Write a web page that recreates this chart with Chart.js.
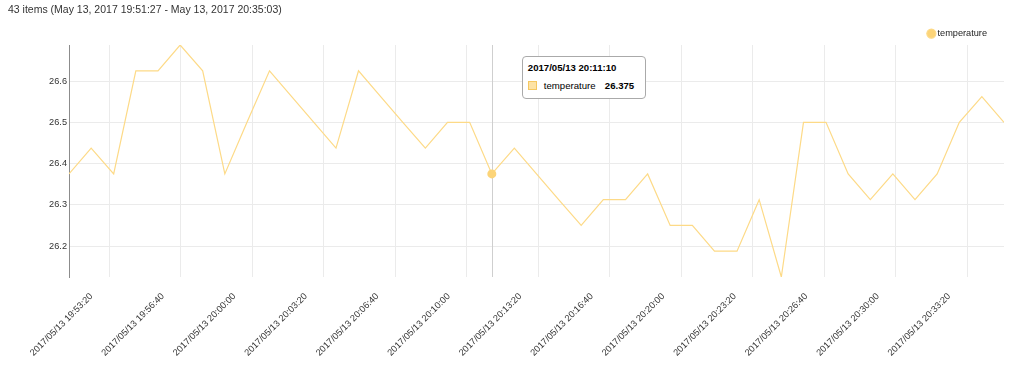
<!DOCTYPE html>
<html><head><meta charset="utf-8">
<script src="https://cdn.jsdelivr.net/npm/chart.js@4/dist/chart.umd.min.js"></script>
<style>
html,body{margin:0;padding:0;background:#fff;}
body{width:1024px;height:372px;overflow:hidden;position:relative;font-family:"Liberation Sans",Arial,Helvetica,sans-serif;}
#title{position:absolute;left:8px;top:3px;font-size:10.5px;line-height:12px;color:#333;white-space:nowrap;z-index:2;}
#wrap{position:absolute;left:0;top:12px;width:1024px;height:360px;}
#tip{position:absolute;width:122px;height:41px;border:1px solid #aaa;border-radius:4px;background:#fff;color:#000;font-size:9.6px;display:none;}
#tip .t{position:absolute;left:5px;top:5px;line-height:12px;font-weight:bold;white-space:nowrap;}
#tip .sw{position:absolute;left:5px;top:24px;width:7px;height:7px;border:1px solid #f5c862;background:#fde3a6;}
#tip .n{position:absolute;left:21px;top:23px;line-height:12px;white-space:nowrap;}
#tip .v{position:absolute;left:82px;top:23px;line-height:12px;font-weight:bold;white-space:nowrap;}
</style></head>
<body>
<div id="wrap"><canvas id="c"></canvas></div>
<div id="title"></div>
<div id="tip"><div class="t"></div><div class="sw"></div><div class="n"></div><div class="v"></div></div>
<script>
const seriesName = 'temperature';
const dateLabel = '2017/05/13';
const dateLong = 'May 13, 2017';
const times = ['19:51:27','19:52:29','19:53:32','19:54:34','19:55:36','19:56:38','19:57:41','19:58:43','19:59:45','20:00:48',
  '20:01:50','20:02:52','20:03:54','20:04:57','20:05:59','20:07:01','20:08:04','20:09:06','20:10:08','20:11:10',
  '20:12:13','20:13:15','20:14:17','20:15:20','20:16:22','20:17:24','20:18:26','20:19:29','20:20:31','20:21:33',
  '20:22:36','20:23:38','20:24:40','20:25:42','20:26:45','20:27:47','20:28:49','20:29:52','20:30:54','20:31:56',
  '20:32:58','20:34:01','20:35:03'];
const temperature = [26.375,26.4375,26.375,26.625,26.625,26.6875,26.625,26.375,26.5,26.625,
  26.5625,26.5,26.4375,26.625,26.5625,26.5,26.4375,26.5,26.5,26.375,
  26.4375,26.375,26.3125,26.25,26.3125,26.3125,26.375,26.25,26.25,26.1875,
  26.1875,26.3125,26.125,26.5,26.5,26.375,26.3125,26.375,26.3125,26.375,
  26.5,26.5625,26.5];
const xTickTimes = ['19:53:20','19:56:40','20:00:00','20:03:20','20:06:40','20:10:00','20:13:20','20:16:40','20:20:00','20:23:20','20:26:40','20:30:00','20:33:20'];
const yTicks = [26.2,26.3,26.4,26.5,26.6];
const activeIndex = 19;

const lineColor = 'rgb(253,218,135)';
const pointColor = 'rgb(252,212,120)';

function toSec(t){const p=t.split(':').map(Number);return p[0]*3600+p[1]*60+p[2];}
function fmt(s){const h=Math.floor(s/3600),m=Math.floor((s%3600)/60),x=Math.round(s%60);return [h,m,x].map(v=>String(v).padStart(2,'0')).join(':');}

document.getElementById('title').textContent = times.length + ' items (' + dateLong + ' ' + times[0] + ' - ' + dateLong + ' ' + times[times.length-1] + ')';

const crosshair = {
  id:'crosshair',
  beforeDatasetsDraw(chart){
    const el = chart.getDatasetMeta(0).data[activeIndex];
    if(!el) return;
    const c = chart.ctx, a = chart.chartArea;
    c.save();
    c.strokeStyle = '#cfcfcf';
    c.lineWidth = 1;
    c.beginPath();
    const x = Math.round(el.x)+0.5;
    c.moveTo(x, a.top); c.lineTo(x, a.bottom);
    c.stroke();
    c.restore();
  }
};

const legendHeight = {
  id:'legendHeight',
  afterInit(chart){
    const lg = chart.legend;
    if(!lg) return;
    const orig = lg.fit;
    lg.fit = function(){ orig.call(this); this.height = 33; };
  }
};

const chart = new Chart(document.getElementById('c'), {
  type:'line',
  data:{datasets:[{
    label:seriesName,
    data:times.map((t,i)=>({x:toSec(t), y:temperature[i]})),
    borderColor:lineColor,
    backgroundColor:pointColor,
    borderWidth:1.2,
    tension:0,
    pointRadius:0,
    pointHoverRadius:4.5,
    pointHoverBorderWidth:0,
    pointHoverBackgroundColor:pointColor,
    pointHoverBorderColor:pointColor,
    pointStyle:'circle'
  }]},
  options:{
    animation:false,
    responsive:true,
    maintainAspectRatio:false,
    events:[],
    layout:{padding:{left:0,right:20,top:0,bottom:0}},
    scales:{
      x:{
        type:'linear',
        min:toSec(times[0]),
        max:toSec(times[times.length-1]),
        afterBuildTicks:s=>{s.ticks = xTickTimes.map(t=>({value:toSec(t)}));},
        afterFit:s=>{s.height = 95;},
        grid:{color:'#ebebeb',drawTicks:false},
        border:{display:false},
        ticks:{minRotation:45,maxRotation:45,autoSkip:false,padding:14,labelOffset:-18,color:'#333',
          font:{family:'"Liberation Sans", Arial, sans-serif',size:9.2},
          callback:v=>dateLabel+' '+fmt(v)}
      },
      y:{
        min:Math.min(...temperature),
        max:Math.max(...temperature),
        afterBuildTicks:s=>{s.ticks = yTicks.map(v=>({value:v}));},
        afterFit:s=>{s.width = 69;},
        grid:{color:'#ebebeb',drawTicks:false},
        border:{color:'#8c8c8c',width:1},
        ticks:{padding:2,color:'#333',font:{family:'"Liberation Sans", Arial, sans-serif',size:9.2},
          callback:v=>Number(v).toFixed(1)}
      }
    },
    plugins:{
      legend:{
        position:'top', align:'end',
        labels:{usePointStyle:true,pointStyle:'circle',boxWidth:3,boxHeight:6.4,padding:17,color:'#222',
          font:{family:'"Liberation Sans", Arial, sans-serif',size:9.2}}
      },
      tooltip:{enabled:false}
    }
  },
  plugins:[crosshair, legendHeight]
});
chart.setActiveElements([{datasetIndex:0,index:activeIndex}]);
chart.render();

// HTML tooltip anchored to the active element
(function(){
  const el = chart.getDatasetMeta(0).data[activeIndex];
  const tip = document.getElementById('tip');
  const wrap = document.getElementById('wrap');
  tip.querySelector('.t').textContent = dateLabel + ' ' + times[activeIndex];
  tip.querySelector('.n').textContent = seriesName;
  tip.querySelector('.v').textContent = String(temperature[activeIndex]);
  tip.style.left = (wrap.offsetLeft + el.x + 30) + 'px';
  tip.style.top = (wrap.offsetTop + chart.chartArea.top + 11) + 'px';
  tip.style.display = 'block';
})();
</script>
</body></html>
